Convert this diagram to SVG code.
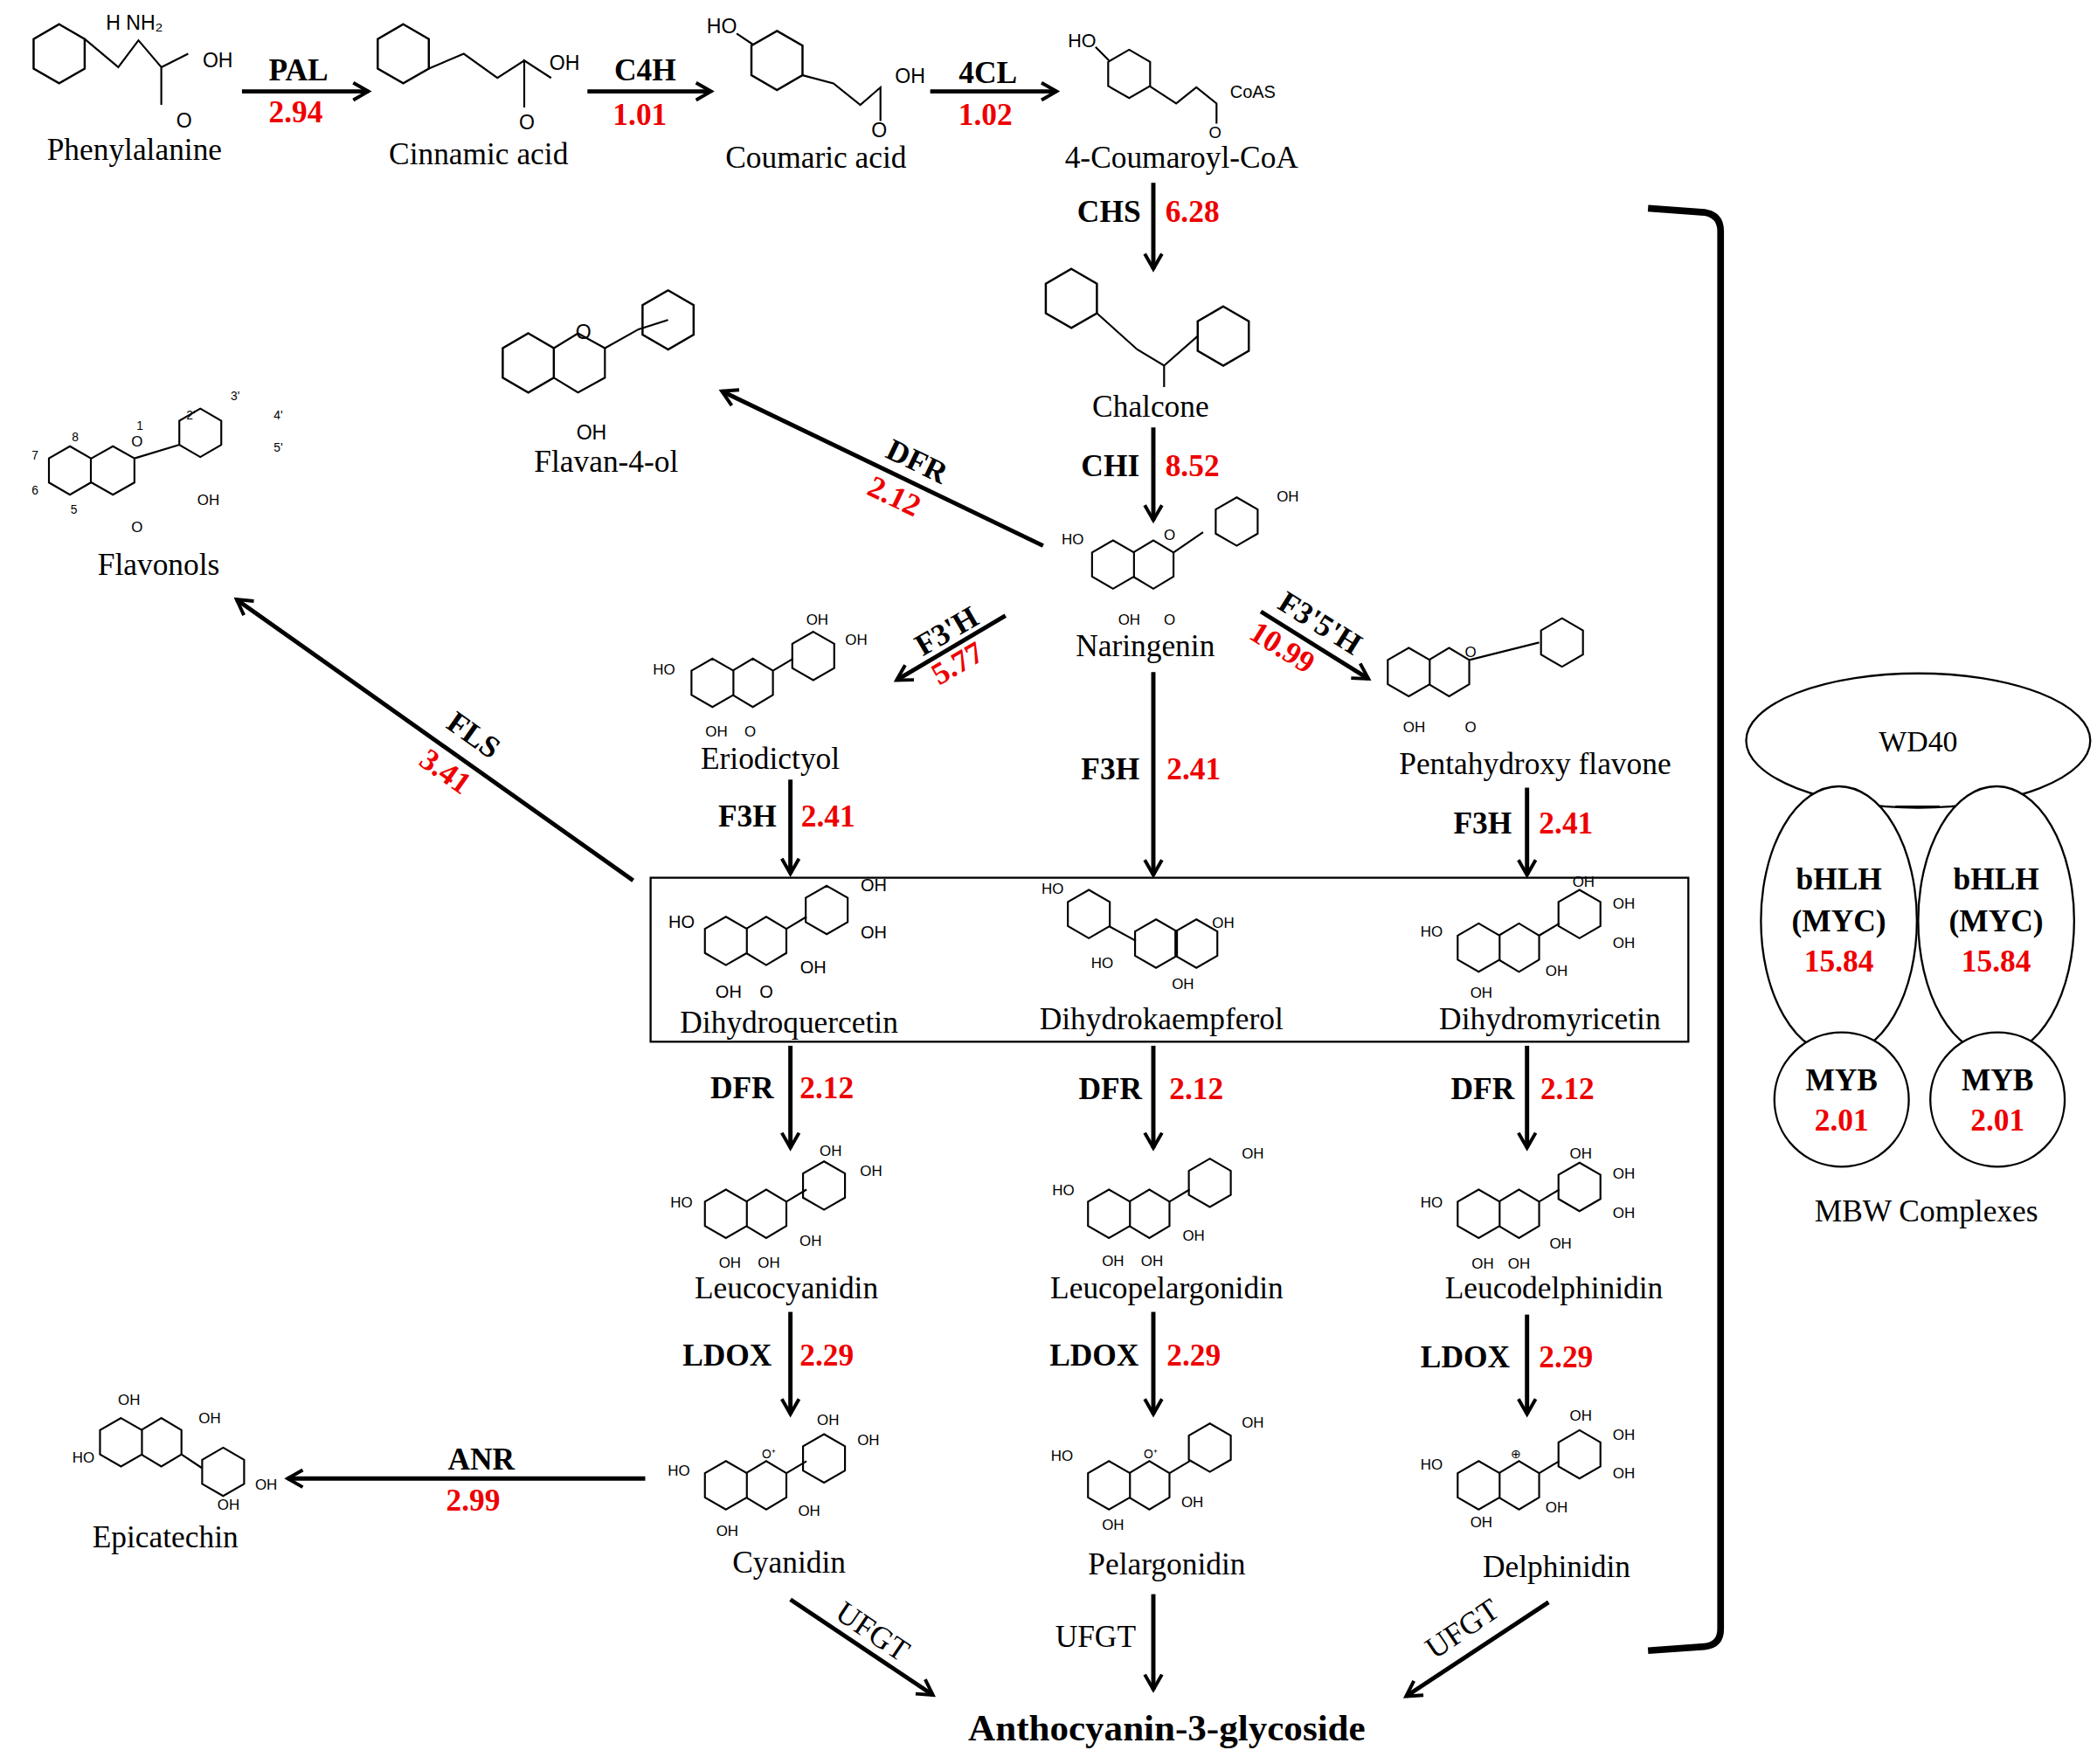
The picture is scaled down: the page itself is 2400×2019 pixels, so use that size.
<svg xmlns="http://www.w3.org/2000/svg" width="2400" height="2019" viewBox="0 0 2400 2019">
<style>
.t{font-family:"Liberation Serif",serif;font-size:23px;fill:#000;text-anchor:middle}
.e{font-family:"Liberation Serif",serif;font-size:23px;font-weight:bold;fill:#000;text-anchor:middle}
.r{font-family:"Liberation Serif",serif;font-size:23px;font-weight:bold;fill:#e00;text-anchor:middle}
.s{font-family:"Liberation Sans",sans-serif;font-size:11px;fill:#000;text-anchor:middle}
.a{stroke:#000;stroke-width:3.2;fill:none;marker-end:url(#h)}
.m{stroke:#000;stroke-width:1.4;fill:none}
</style>
<defs>
<marker id="h" viewBox="0 0 10 10" refX="8" refY="5" markerWidth="5" markerHeight="5" orient="auto" markerUnits="strokeWidth"><path d="M1,1 L8,5 L1,9" fill="none" stroke="#000" stroke-width="1.6"/></marker>
<polygon id="ring" points="0,-18 15.6,-9 15.6,9 0,18 -15.6,9 -15.6,-9" fill="none" stroke="#000" stroke-width="1.4"/>
<polygon id="bring" points="0,-22 19,-11 19,11 0,22 -19,11 -19,-11" fill="none" stroke="#000" stroke-width="1.6"/>
</defs>
<rect width="2400" height="2019" fill="#fff"/>
<g transform="scale(1.53846)">
<g id="structures">
<use href="#bring" x="44" y="40"/><path class="m" d="M63,29 L88,50 L103,30 L120,50 L120,78 M120,50 L140,40"/><text class="s" x="100" y="22" style="font-size:15px">H  NH₂</text><text class="s" x="162" y="50" style="font-size:15px">OH</text><text class="s" x="137" y="95" style="font-size:15px">O</text>
<use href="#bring" x="300" y="40"/><path class="m" d="M319,51 L345,40 L370,58 L390,45 L410,58 L390,45 L390,80"/><text class="s" x="420" y="52" style="font-size:15px">OH</text><text class="s" x="392" y="96" style="font-size:15px">O</text>
<use href="#bring" x="578" y="45"/><path class="m" d="M597,56 L620,62 L640,78 L655,65 L655,90 M560,33 L548,25"/><text class="s" x="537" y="25" style="font-size:15px">HO</text><text class="s" x="677" y="62" style="font-size:15px">OH</text><text class="s" x="654" y="102" style="font-size:15px">O</text>
<use href="#ring" x="840" y="55"/><path class="m" d="M855,64 L875,77 L890,65 L905,77 L905,92 M825,45 L815,35"/><text class="s" x="805" y="35" style="font-size:14px">HO</text><text class="s" x="932" y="73" style="font-size:13px">CoAS</text><text class="s" x="904" y="103" style="font-size:12px">O</text>
<use href="#bring" x="797" y="222"/><use href="#bring" x="910" y="250"/><path class="m" d="M816,233 L846,260 L866,272 L891,250 M866,272 L866,288"/>
<use href="#bring" x="393" y="270"/><path class="m" d="M412,259 L430,248 L450,259 L450,281 L430,292 L412,281 M450,259 L475,245 L497,238"/><use href="#bring" x="497" y="238"/><text class="s" x="434" y="252" style="font-size:15px">O</text><text class="s" x="440" y="327" style="font-size:15px">OH</text>
<use href="#ring" x="52" y="350"/><path class="m" d="M68,341 L84,332 L100,341 L100,359 L84,368 L68,359 M100,341 L133,331"/><use href="#ring" x="149" y="322"/><text class="s" x="102" y="332">O</text><text class="s" x="155" y="376">OH</text><text class="s" x="102" y="396">O</text><text class="s" x="104" y="320" style="font-size:9px">1</text><text class="s" x="56" y="328" style="font-size:9px">8</text><text class="s" x="26" y="342" style="font-size:9px">7</text><text class="s" x="26" y="368" style="font-size:9px">6</text><text class="s" x="55" y="382" style="font-size:9px">5</text><text class="s" x="175" y="298" style="font-size:9px">3'</text><text class="s" x="207" y="312" style="font-size:9px">4'</text><text class="s" x="207" y="336" style="font-size:9px">5'</text><text class="s" x="142" y="312" style="font-size:9px">2'</text>
<use href="#ring" x="828" y="420"/><path class="m" d="M843,411 L858,402 L873,411 L873,429 L858,438 L843,429 M873,411 L895,396"/><use href="#ring" x="920" y="388"/><text class="s" x="798" y="405">HO</text><text class="s" x="958" y="373">OH</text><text class="s" x="840" y="465">OH</text><text class="s" x="870" y="465">O</text><text class="s" x="870" y="402">O</text>
<use href="#ring" x="530" y="508"/><path class="m" d="M545,499 L560,490 L575,499 L575,517 L560,526 L545,517 M575,499 L590,490"/><use href="#ring" x="605" y="488"/><text class="s" x="494" y="502">HO</text><text class="s" x="608" y="465">OH</text><text class="s" x="637" y="480">OH</text><text class="s" x="533" y="548">OH</text><text class="s" x="558" y="548">O</text>
<use href="#ring" x="1048" y="500"/><path class="m" d="M1063,491 L1078,482 L1093,491 L1093,509 L1078,518 L1063,509 M1093,491 L1145,478"/><use href="#ring" x="1162" y="478"/><text class="s" x="1052" y="545">OH</text><text class="s" x="1094" y="545">O</text><text class="s" x="1094" y="489">O</text>
</g>
<g id="box-structures">
<use href="#ring" x="540" y="700"/><path class="m" d="M555,691 L570,682 L585,691 L585,709 L570,718 L555,709 M585,691 L600,682"/><use href="#ring" x="615" y="677"/><text class="s" x="507" y="690" style="font-size:13px">HO</text><text class="s" x="650" y="663" style="font-size:13px">OH</text><text class="s" x="650" y="698" style="font-size:13px">OH</text><text class="s" x="542" y="742" style="font-size:13px">OH</text><text class="s" x="570" y="742" style="font-size:13px">O</text><text class="s" x="605" y="724" style="font-size:13px">OH</text>
<use href="#ring" x="810" y="680"/><path class="m" d="M825,689 L845,700"/><use href="#ring" x="860" y="702"/><use href="#ring" x="890" y="702"/><text class="s" x="783" y="665">HO</text><text class="s" x="910" y="690">OH</text><text class="s" x="820" y="720">HO</text><text class="s" x="880" y="736">OH</text>
<use href="#ring" x="1100" y="705"/><path class="m" d="M1115,696 L1130,687 L1145,696 L1145,714 L1130,723 L1115,714 M1145,696 L1160,687"/><use href="#ring" x="1175" y="680"/><text class="s" x="1065" y="697">HO</text><text class="s" x="1178" y="660">OH</text><text class="s" x="1208" y="676">OH</text><text class="s" x="1208" y="705">OH</text><text class="s" x="1102" y="742">OH</text><text class="s" x="1158" y="726">OH</text>
</g>
<g id="leuco-structures">
<use href="#ring" x="540" y="903"/><path class="m" d="M555,894 L570,885 L585,894 L585,912 L570,921 L555,912 M585,894 L600,885"/><use href="#ring" x="613" y="882"/><text class="s" x="507" y="898">HO</text><text class="s" x="618" y="860">OH</text><text class="s" x="648" y="875">OH</text><text class="s" x="543" y="943">OH</text><text class="s" x="572" y="943">OH</text><text class="s" x="603" y="927">OH</text>
<use href="#ring" x="825" y="903"/><path class="m" d="M840,894 L855,885 L870,894 L870,912 L855,921 L840,912 M870,894 L885,885"/><use href="#ring" x="900" y="880"/><text class="s" x="791" y="889">HO</text><text class="s" x="932" y="862">OH</text><text class="s" x="828" y="942">OH</text><text class="s" x="857" y="942">OH</text><text class="s" x="888" y="923">OH</text>
<use href="#ring" x="1100" y="903"/><path class="m" d="M1115,894 L1130,885 L1145,894 L1145,912 L1130,921 L1115,912 M1145,894 L1160,885"/><use href="#ring" x="1175" y="883"/><text class="s" x="1065" y="898">HO</text><text class="s" x="1176" y="862">OH</text><text class="s" x="1208" y="877">OH</text><text class="s" x="1208" y="906">OH</text><text class="s" x="1103" y="944">OH</text><text class="s" x="1130" y="944">OH</text><text class="s" x="1161" y="929">OH</text>
</g>
<g id="antho-structures">
<use href="#ring" x="540" y="1105"/><path class="m" d="M555,1096 L570,1087 L585,1096 L585,1114 L570,1123 L555,1114 M585,1096 L600,1087"/><use href="#ring" x="613" y="1085"/><text class="s" x="505" y="1098">HO</text><text class="s" x="616" y="1060">OH</text><text class="s" x="646" y="1075">OH</text><text class="s" x="541" y="1143">OH</text><text class="s" x="602" y="1128">OH</text><text class="s" x="572" y="1085" style="font-size:9px">O⁺</text>
<use href="#ring" x="825" y="1105"/><path class="m" d="M840,1096 L855,1087 L870,1096 L870,1114 L855,1123 L840,1114 M870,1096 L885,1087"/><use href="#ring" x="900" y="1077"/><text class="s" x="790" y="1087">HO</text><text class="s" x="932" y="1062">OH</text><text class="s" x="828" y="1138">OH</text><text class="s" x="887" y="1121">OH</text><text class="s" x="856" y="1085" style="font-size:9px">O⁺</text>
<use href="#ring" x="1100" y="1105"/><path class="m" d="M1115,1096 L1130,1087 L1145,1096 L1145,1114 L1130,1123 L1115,1114 M1145,1096 L1160,1087"/><use href="#ring" x="1175" y="1082"/><text class="s" x="1065" y="1093">HO</text><text class="s" x="1176" y="1057">OH</text><text class="s" x="1208" y="1071">OH</text><text class="s" x="1208" y="1100">OH</text><text class="s" x="1102" y="1136">OH</text><text class="s" x="1158" y="1125">OH</text><text class="s" x="1128" y="1085" style="font-size:9px">⊕</text>
<use href="#ring" x="90" y="1073"/><path class="m" d="M105,1064 L120,1055 L135,1064 L135,1082 L120,1091 L105,1082 M135,1082 L150,1092"/><use href="#ring" x="166" y="1095"/><text class="s" x="96" y="1045">OH</text><text class="s" x="156" y="1059">OH</text><text class="s" x="62" y="1088">HO</text><text class="s" x="170" y="1123">OH</text><text class="s" x="198" y="1108">OH</text>
</g>
<g id="labels">
<text class="t" x="100" y="119">Phenylalanine</text>
<text class="t" x="356" y="122">Cinnamic acid</text>
<text class="t" x="607" y="125">Coumaric acid</text>
<text class="t" x="879" y="125">4-Coumaroyl-CoA</text>
<text class="t" x="856" y="310">Chalcone</text>
<text class="t" x="451" y="351">Flavan-4-ol</text>
<text class="t" x="118" y="428">Flavonols</text>
<text class="t" x="852" y="488">Naringenin</text>
<text class="t" x="573" y="572">Eriodictyol</text>
<text class="t" x="1142" y="576">Pentahydroxy flavone</text>
<text class="t" x="587" y="768">Dihydroquercetin</text>
<text class="t" x="864" y="766">Dihydrokaempferol</text>
<text class="t" x="1153" y="766">Dihydromyricetin</text>
<text class="t" x="585" y="966">Leucocyanidin</text>
<text class="t" x="868" y="966">Leucopelargonidin</text>
<text class="t" x="1156" y="966">Leucodelphinidin</text>
<text class="t" x="587" y="1170">Cyanidin</text>
<text class="t" x="868" y="1171">Pelargonidin</text>
<text class="t" x="1158" y="1173">Delphinidin</text>
<text class="t" x="123" y="1151">Epicatechin</text>
<text class="e" x="868" y="1295" style="font-size:28px">Anthocyanin-3-glycoside</text>
</g>
<g id="connectors">
<line class="a" x1="180" y1="68" x2="274" y2="68"/><text class="e" x="222" y="60">PAL</text><text class="r" x="220" y="91">2.94</text>
<line class="a" x1="437" y1="68" x2="529" y2="68"/><text class="e" x="480" y="60">C4H</text><text class="r" x="476" y="93">1.01</text>
<line class="a" x1="692" y1="68" x2="786" y2="68"/><text class="e" x="735" y="62">4CL</text><text class="r" x="733" y="93">1.02</text>
<line class="a" x1="858" y1="136" x2="858" y2="200"/><text class="e" x="825" y="165">CHS</text><text class="r" x="887" y="165">6.28</text>
<line class="a" x1="858" y1="318" x2="858" y2="387"/><text class="e" x="826" y="354">CHI</text><text class="r" x="887" y="354">8.52</text>
<line class="a" x1="776" y1="406" x2="537" y2="291"/><text class="e" transform="translate(679,350) rotate(25.7)">DFR</text><text class="r" transform="translate(662,376) rotate(25.7)">2.12</text>
<line class="a" x1="471" y1="655" x2="176" y2="446"/><text class="e" transform="translate(348,553) rotate(35.4)">FLS</text><text class="r" transform="translate(327,580) rotate(35.4)">3.41</text>
<line class="a" x1="748" y1="458" x2="667" y2="506"/><text class="e" transform="translate(708,476) rotate(-30)">F3'H</text><text class="r" transform="translate(716,500) rotate(-30)">5.77</text>
<line class="a" x1="938" y1="455" x2="1018" y2="505"/><text class="e" transform="translate(978,470) rotate(32)">F3'5'H</text><text class="r" transform="translate(950,488) rotate(32)">10.99</text>
<line class="a" x1="858" y1="500" x2="858" y2="651"/><text class="e" x="826" y="580">F3H</text><text class="r" x="888" y="580">2.41</text>
<line class="a" x1="588" y1="580" x2="588" y2="650"/><text class="e" x="556" y="615">F3H</text><text class="r" x="616" y="615">2.41</text>
<line class="a" x1="1136" y1="586" x2="1136" y2="651"/><text class="e" x="1103" y="620">F3H</text><text class="r" x="1165" y="620">2.41</text>
<rect x="484" y="653" width="772" height="122" fill="none" stroke="#000" stroke-width="1.5"/>
<line class="a" x1="588" y1="778" x2="588" y2="854"/><text class="e" x="552" y="817">DFR</text><text class="r" x="615" y="817">2.12</text>
<line class="a" x1="858" y1="778" x2="858" y2="854"/><text class="e" x="826" y="818">DFR</text><text class="r" x="890" y="818">2.12</text>
<line class="a" x1="1136" y1="778" x2="1136" y2="854"/><text class="e" x="1103" y="818">DFR</text><text class="r" x="1166" y="818">2.12</text>
<line class="a" x1="588" y1="976" x2="588" y2="1052"/><text class="e" x="541" y="1016">LDOX</text><text class="r" x="615" y="1016">2.29</text>
<line class="a" x1="858" y1="976" x2="858" y2="1052"/><text class="e" x="814" y="1016">LDOX</text><text class="r" x="888" y="1016">2.29</text>
<line class="a" x1="1136" y1="978" x2="1136" y2="1052"/><text class="e" x="1090" y="1017">LDOX</text><text class="r" x="1165" y="1017">2.29</text>
<line class="a" x1="480" y1="1100" x2="214" y2="1100"/><text class="e" x="358" y="1093">ANR</text><text class="r" x="352" y="1124">2.99</text>
<line class="a" x1="588" y1="1190" x2="694" y2="1261"/><text class="t" transform="translate(645,1220) rotate(34)">UFGT</text>
<line class="a" x1="858" y1="1186" x2="858" y2="1257"/><text class="t" x="815" y="1225">UFGT</text>
<line class="a" x1="1152" y1="1192" x2="1046" y2="1262"/><text class="t" transform="translate(1092,1218) rotate(-34)">UFGT</text>
<path d="M1226,155 L1268,158 Q1280,160 1280,172 L1280,1212 Q1280,1224 1268,1225 L1226,1228" fill="none" stroke="#000" stroke-width="5"/>
</g>
<g id="mbw">
<ellipse cx="1427" cy="551" rx="128" ry="50" fill="#fff" stroke="#000" stroke-width="1.5"/>
<text class="t" x="1427" y="559" style="font-size:22px">WD40</text>
<ellipse cx="1368" cy="685" rx="58" ry="100" fill="#fff" stroke="#000" stroke-width="1.5"/>
<ellipse cx="1485" cy="685" rx="58" ry="100" fill="#fff" stroke="#000" stroke-width="1.5"/>
<line x1="1410" y1="600" x2="1443" y2="600" stroke="#000" stroke-width="1.5"/>
<circle cx="1370" cy="818" r="50" fill="#fff" stroke="#000" stroke-width="1.5"/>
<circle cx="1486" cy="818" r="50" fill="#fff" stroke="#000" stroke-width="1.5"/>
<text class="e" x="1368" y="662">bHLH</text><text class="e" x="1368" y="693">(MYC)</text><text class="r" x="1368" y="723">15.84</text>
<text class="e" x="1485" y="662">bHLH</text><text class="e" x="1485" y="693">(MYC)</text><text class="r" x="1485" y="723">15.84</text>
<text class="e" x="1370" y="811">MYB</text><text class="r" x="1370" y="841">2.01</text>
<text class="e" x="1486" y="811">MYB</text><text class="r" x="1486" y="841">2.01</text>
<text class="t" x="1433" y="909">MBW Complexes</text>
</g>
</g>
</svg>
